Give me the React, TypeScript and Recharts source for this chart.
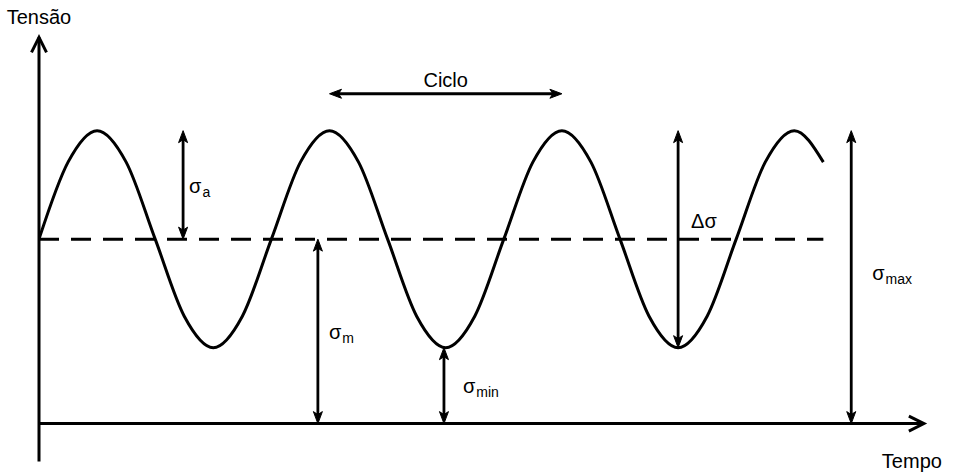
import React from 'react';
import { ComposedChart, Line, XAxis, YAxis, ReferenceLine } from 'recharts';

// time in quarter-cycle units, one sample every eighth of a cycle
const tempo = [
  0, 0.5, 1, 1.5, 2, 2.5, 3, 3.5, 4, 4.5, 5, 5.5, 6, 6.5,
  7, 7.5, 8, 8.5, 9, 9.5, 10, 10.5, 11, 11.5, 12, 12.5, 13, 13.5,
];
const tensao = [
  1.7, 2.41, 2.7, 2.41, 1.7, 0.99, 0.7, 0.99,
  1.7, 2.41, 2.7, 2.41, 1.7, 0.99, 0.7, 0.99,
  1.7, 2.41, 2.7, 2.41, 1.7, 0.99, 0.7, 0.99,
  1.7, 2.41, 2.7, 2.41,
];

const sigmaMean = 1.7;
const sigmaMax = 2.7;
const sigmaMin = 0.7;
const cycleStart = 5;
const cycleEnd = 9;
const cycleLevel = 3.04;
const meanLineEnd = 13.5;

const xAxisEnd = 15.23;
const yAxisTop = 3.56;
const yAxisBottom = -0.35;

const data = tempo.map((t, i) => ({ t, s: tensao[i] }));

const FONT = '"Liberation Sans", Arial, Helvetica, sans-serif';
const INK = '#000';

type Pt = { x: number; y: number };

// small filled arrow head, tip at (x, y), pointing along (ux, uy)
const head = (x: number, y: number, ux: number, uy: number, len = 12, half = 4.5) => {
  const bx = x - ux * len;
  const by = y - uy * len;
  const nx = -uy;
  const ny = ux;
  const notch = { x: x - ux * len * 0.75, y: y - uy * len * 0.75 };
  return `${x},${y} ${bx + nx * half},${by + ny * half} ${notch.x},${notch.y} ${bx - nx * half},${by - ny * half}`;
};

type Label = { main: string; sub?: string; dx: number; dy: number; anchor?: 'start' | 'middle' };

const renderLabel = (mid: Pt, label: Label) => (
  <text
    x={mid.x + label.dx}
    y={mid.y + label.dy}
    fontFamily={FONT}
    fontSize={20}
    fill={INK}
    textAnchor={label.anchor ?? 'start'}
  >
    <tspan>{label.main}</tspan>
    {label.sub && (
      <tspan fontSize={14} dx={1} dy={4}>
        {label.sub}
      </tspan>
    )}
  </text>
);

// double-headed dimension arrow drawn on a ReferenceLine segment
const dimArrow = (label: Label) => (props: any) => {
  const { x1, y1, x2, y2 } = props;
  const len = Math.hypot(x2 - x1, y2 - y1) || 1;
  const ux = (x2 - x1) / len;
  const uy = (y2 - y1) / len;
  const inset = 8;
  return (
    <g>
      <line
        x1={x1 + ux * inset}
        y1={y1 + uy * inset}
        x2={x2 - ux * inset}
        y2={y2 - uy * inset}
        stroke={INK}
        strokeWidth={2.8}
      />
      <polygon points={head(x2, y2, ux, uy)} fill={INK} stroke={INK} strokeWidth={1} />
      <polygon points={head(x1, y1, -ux, -uy)} fill={INK} stroke={INK} strokeWidth={1} />
      {renderLabel({ x: (x1 + x2) / 2, y: (y1 + y2) / 2 }, label)}
    </g>
  );
};

// axis line with an open chevron at its far end and its title
const axisArrow = (title: string, tx: number, ty: number, anchor: 'start' | 'middle') => (props: any) => {
  const { x1, y1, x2, y2 } = props;
  const len = Math.hypot(x2 - x1, y2 - y1) || 1;
  const ux = (x2 - x1) / len;
  const uy = (y2 - y1) / len;
  const back = 15;
  const half = 7.5;
  const bx = x2 - ux * back;
  const by = y2 - uy * back;
  return (
    <g>
      <line x1={x1} y1={y1} x2={x2} y2={y2} stroke={INK} strokeWidth={3} />
      <polyline
        points={`${bx - uy * half},${by + ux * half} ${x2},${y2} ${bx + uy * half},${by - ux * half}`}
        fill="none"
        stroke={INK}
        strokeWidth={3}
      />
      <text x={x2 + tx} y={y2 + ty} fontFamily={FONT} fontSize={20} fill={INK} textAnchor={anchor}>
        {title}
      </text>
    </g>
  );
};

export default function App() {
  return (
    <div style={{ position: 'absolute', left: 0, top: 0, background: '#fff' }}>
      <ComposedChart
        width={953}
        height={474}
        data={data}
        margin={{ top: 33, right: 13.45, bottom: 7, left: 39 }}
      >
        <XAxis type="number" dataKey="t" domain={[0, 15.5]} hide allowDataOverflow />
        <YAxis type="number" domain={[-0.4, 3.6]} hide allowDataOverflow />

        <ReferenceLine
          segment={[{ x: 0, y: yAxisBottom }, { x: 0, y: yAxisTop }]}
          shape={axisArrow('Tensão', 0, -13, 'middle')}
          ifOverflow="visible"
        />
        <ReferenceLine
          segment={[{ x: 0, y: 0 }, { x: xAxisEnd, y: 0 }]}
          shape={axisArrow('Tempo', -42, 44, 'start')}
          ifOverflow="visible"
        />

        <ReferenceLine
          segment={[{ x: 0, y: sigmaMean }, { x: meanLineEnd, y: sigmaMean }]}
          stroke={INK}
          strokeWidth={3}
          strokeDasharray="20 12"
          ifOverflow="visible"
        />

        <Line
          type="monotone"
          dataKey="s"
          stroke={INK}
          strokeWidth={3}
          dot={false}
          activeDot={false}
          isAnimationActive={false}
        />

        <ReferenceLine
          segment={[{ x: 2.48, y: sigmaMean }, { x: 2.48, y: sigmaMax }]}
          shape={dimArrow({ main: 'σ', sub: 'a', dx: 6, dy: 8 })}
        />
        <ReferenceLine
          segment={[{ x: cycleStart, y: cycleLevel }, { x: cycleEnd, y: cycleLevel }]}
          shape={dimArrow({ main: 'Ciclo', dx: 0, dy: -7, anchor: 'middle' })}
        />
        <ReferenceLine
          segment={[{ x: 4.8, y: 0 }, { x: 4.8, y: sigmaMean }]}
          shape={dimArrow({ main: 'σ', sub: 'm', dx: 11, dy: 8 })}
        />
        <ReferenceLine
          segment={[{ x: 6.97, y: 0 }, { x: 6.97, y: sigmaMin }]}
          shape={dimArrow({ main: 'σ', sub: 'min', dx: 19, dy: 7 })}
        />
        <ReferenceLine
          segment={[{ x: 11, y: sigmaMin }, { x: 11, y: sigmaMax }]}
          shape={dimArrow({ main: 'Δσ', dx: 13, dy: -11 })}
        />
        <ReferenceLine
          segment={[{ x: 13.98, y: 0 }, { x: 13.98, y: sigmaMax }]}
          shape={dimArrow({ main: 'σ', sub: 'max', dx: 21, dy: 3 })}
        />
      </ComposedChart>
    </div>
  );
}
